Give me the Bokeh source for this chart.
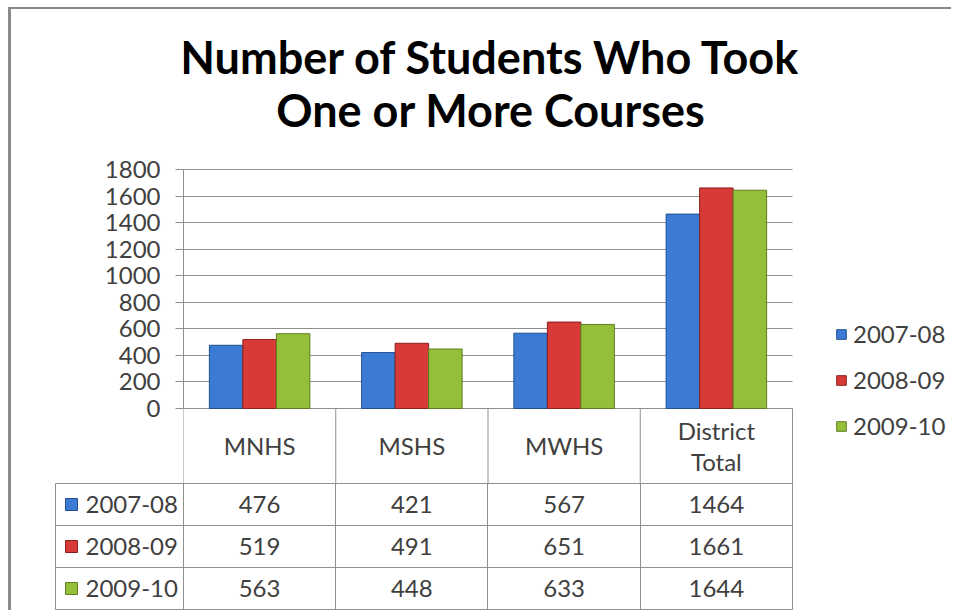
from bokeh.plotting import figure
from bokeh.models import Range1d, FixedTicker, Legend, LegendItem, ColumnDataSource
from bokeh.transform import dodge
from bokeh.core.properties import value
from bokeh.layouts import column
from bokeh.embed import file_html
from bokeh.resources import INLINE

# ---------------- data ----------------
categories = ["MNHS", "MSHS", "MWHS", "District Total"]
header_labels = ["MNHS", "MSHS", "MWHS", "District\nTotal"]
years = ["2007-08", "2008-09", "2009-10"]
v_2007_08 = [476, 421, 567, 1464]
v_2008_09 = [519, 491, 651, 1661]
v_2009_10 = [563, 448, 633, 1644]
y_ticks = [0, 200, 400, 600, 800, 1000, 1200, 1400, 1600, 1800]
title_lines = ["Number of Students Who Took", "One or More Courses"]

series = [v_2007_08, v_2008_09, v_2009_10]

# ---------------- style / layout ----------------
FONT = "Lato"
TEXT = "#404040"
GRID = "#8f8f8f"
FS = "24px"
fills = ["#3b7bd4", "#d83b37", "#95bf3b"]
edges = ["#1f4f8f", "#8c1f1c", "#5d7d1f"]
W = 940
PX_PER_UNIT = 239 / 1800          # vertical scale of the value axis
HEADER_START = -565               # header row of the data table, below zero
TOP = y_ticks[-1] + 160 / PX_PER_UNIT   # space above the plot for the title
TITLE_Y = [y_ticks[-1] + 112 / PX_PER_UNIT, y_ticks[-1] + 59 / PX_PER_UNIT]
BAR_W = 0.22
offsets = [-BAR_W, 0.0, BAR_W]

n = len(categories)
X_END = n + 159 / 152.25  # room at the right of the plot for the legend
x_pos = [i + 0.5 for i in range(n)]
src = ColumnDataSource(dict(x=x_pos, label=header_labels,
                            s0=v_2007_08, s1=v_2008_09, s2=v_2009_10))

# ---------------- top figure (title + bars + header row + legend) ----------------
p = figure(width=W, height=474, x_range=Range1d(0, X_END), y_range=Range1d(HEADER_START, TOP),
           output_backend="svg", toolbar_location=None, title=None,
           min_border_left=172, min_border_right=0, min_border_top=0, min_border_bottom=0)
p.frame_align = False
p.outline_line_color = None
p.background_fill_color = "white"
p.border_fill_color = "white"

p.text(x=[n / 2] * 2, y=TITLE_Y, text=title_lines, x_offset=3,
       text_font=value(FONT), text_font_size="45px", text_font_style="bold", text_color="black",
       text_align="center", text_baseline="middle")

p.xaxis.visible = False
p.xgrid.visible = False

yt = FixedTicker(ticks=y_ticks, minor_ticks=[])
p.yaxis.ticker = yt
p.yaxis.bounds = (y_ticks[0], y_ticks[-1])
p.yaxis.axis_line_color = GRID
p.yaxis.major_tick_line_color = GRID
p.yaxis.major_tick_out = 8
p.yaxis.major_tick_in = 0
p.yaxis.minor_tick_line_color = None
p.yaxis.major_label_text_font = FONT
p.yaxis.major_label_text_font_size = FS
p.yaxis.major_label_text_color = TEXT
p.yaxis.major_label_standoff = 15

p.ygrid.ticker = yt
p.ygrid.bounds = (y_ticks[0], y_ticks[-1])
p.ygrid.cross_bounds = (0, n)
p.ygrid.grid_line_color = GRID

renderers = []
for k in range(3):
    r = p.vbar(x=dodge("x", offsets[k]), top="s%d" % k, bottom=0, width=BAR_W, source=src,
               fill_color=fills[k], line_color=edges[k], line_width=1)
    renderers.append(r)

# header row of the table (inside the chart frame, below zero)
bounds_x = list(range(n + 1))
p.segment(x0=bounds_x, y0=[0] * (n + 1), x1=bounds_x, y1=[HEADER_START] * (n + 1),
          line_color=GRID, line_width=1)
p.text(x="x", y=HEADER_START / 2, text="label", source=src,
       text_font=value(FONT), text_font_size=FS, text_color=TEXT,
       text_align="center", text_baseline="middle", text_line_height=1.05)

legend = Legend(items=[LegendItem(label=years[k], renderers=[renderers[k]]) for k in range(3)],
                location=(652, 43), orientation="vertical",
                border_line_color=None, background_fill_alpha=0, padding=0, margin=0,
                glyph_width=12, glyph_height=12, label_standoff=6, spacing=17, label_height=28,
                label_text_font=FONT, label_text_font_size=FS, label_text_color=TEXT)
p.add_layout(legend)

# ---------------- bottom figure (data table rows) ----------------
LEFT_COL = -0.84
q = figure(width=W, height=127, x_range=Range1d(LEFT_COL, n), y_range=Range1d(0, 3),
           output_backend="svg", toolbar_location=None,
           min_border_left=44, min_border_right=159, min_border_top=0, min_border_bottom=1)
q.frame_align = False
q.xaxis.visible = False
q.yaxis.visible = False
q.outline_line_color = GRID
q.xgrid.ticker = FixedTicker(ticks=list(range(n)), minor_ticks=[])
q.ygrid.ticker = FixedTicker(ticks=[1, 2], minor_ticks=[])
q.xgrid.grid_line_color = GRID
q.ygrid.grid_line_color = GRID

tx, ty, tt = [], [], []
for k in range(3):
    for i in range(n):
        tx.append(x_pos[i])
        ty.append(2.5 - k)
        tt.append(str(series[k][i]))
q.text(x=tx, y=ty, text=tt, text_font=value(FONT), text_font_size=FS, text_color=TEXT,
       text_align="center", text_baseline="middle")

row_y = [2.5 - k for k in range(3)]
q.scatter(x=[LEFT_COL + 0.105] * 3, y=row_y, marker="square", size=12,
          fill_color=fills, line_color=edges)
q.text(x=[LEFT_COL + 0.197] * 3, y=row_y, text=years, text_font=value(FONT),
       text_font_size=FS, text_color=TEXT, text_align="left", text_baseline="middle")

layout = column(p, q, styles={"margin-left": "8px", "margin-top": "7px",
                              "border-left": "3px solid #8a8a8a", "border-top": "2px solid #8a8a8a"})

open("out.html", "w").write(file_html(layout, INLINE))
